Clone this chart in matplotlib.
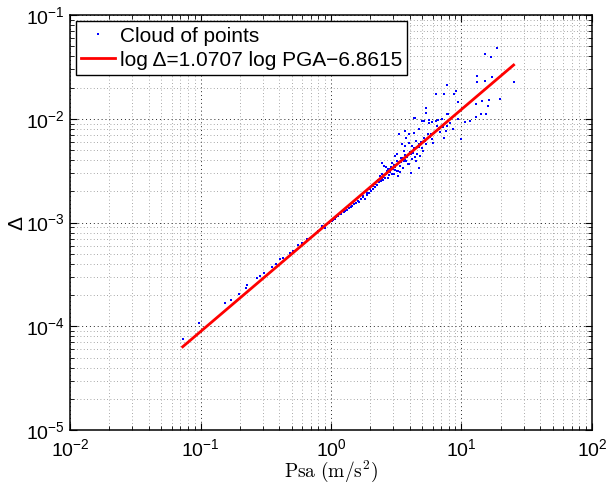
import numpy as np
import matplotlib
matplotlib.use("Agg")
import matplotlib.pyplot as plt

plt.rcParams['font.family'] = ['Liberation Sans', 'DejaVu Sans']
plt.rcParams['mathtext.fontset'] = 'custom'
plt.rcParams['mathtext.rm'] = 'Liberation Sans'
plt.rcParams['mathtext.it'] = 'Liberation Sans:italic'
plt.rcParams['mathtext.bf'] = 'Liberation Sans:bold'

# cloud of points (Psa, drift)
psa = [0.073, 0.098, 0.155, 0.172, 0.198, 0.223, 0.226, 0.271, 0.286, 0.307,
       0.353, 0.378, 0.406, 0.428, 0.485, 0.510, 0.557, 0.598, 0.653, 0.687,
       0.751, 0.792, 0.849, 0.895, 0.942, 1.01, 1.10, 1.16, 1.32, 1.46,
       1.65, 1.81,
       0.97, 1.04, 1.07, 1.13, 1.20, 1.25, 1.29, 1.38, 1.42, 1.50,
       1.55, 1.60, 1.70, 1.75, 1.88, 1.95, 2.02, 2.10, 2.18, 2.25,
       1.75, 1.88, 1.98, 2.09, 2.16, 2.24, 2.36, 2.48, 2.72, 2.81,
       2.96, 3.18, 3.24, 2.44, 2.57, 2.67, 3.18, 3.46, 3.79, 3.99,
       4.51, 4.76, 4.13, 3.35, 3.79, 3.99, 3.66, 3.53, 4.51, 4.76,
       5.01, 5.38, 5.98, 4.36, 5.38, 5.01, 5.67, 6.41, 7.78, 6.75,
       7.64, 7.37,
       18.7, 15.2, 16.8, 13.1, 13.1, 15.2, 17.1, 25.1, 7.78, 6.41,
       7.37, 8.79, 9.11, 9.43, 12.9, 14.4, 16.2, 16.0, 19.7, 15.4,
       14.1, 12.9, 11.7, 10.7, 9.43, 7.91, 7.12, 6.64, 5.38, 4.44,
       5.20, 5.67, 5.98, 3.66, 3.99, 4.36, 4.76, 6.53, 6.75, 7.78,
       9.94, 5.87,
       2.30, 2.40, 2.50, 2.55, 2.60, 2.70, 2.75, 2.85, 2.90, 3.00,
       3.05, 3.10, 3.30, 3.40, 3.50, 3.60, 3.70, 3.85, 4.00, 4.20,
       4.30, 4.60, 4.90, 5.20, 5.50, 3.20, 2.95, 2.65,
       2.33, 2.46, 2.52, 2.62, 2.78, 2.88, 3.02, 3.12, 3.28, 3.42,
       3.56, 3.72, 3.90, 4.08, 4.25, 4.40, 4.70, 5.05, 5.30, 5.75,
       6.10, 6.90, 7.20, 8.20, 8.60, 3.08, 3.36, 3.62, 4.18, 4.85]
drift = [7.5e-5, 1.08e-4, 1.67e-4, 1.78e-4, 2.07e-4, 2.36e-4, 2.52e-4, 2.94e-4, 3.07e-4, 3.28e-4,
         3.74e-4, 4.0e-4, 4.46e-4, 4.56e-4, 5.09e-4, 5.32e-4, 6.06e-4, 6.34e-4, 6.92e-4, 7.07e-4,
         7.72e-4, 8.24e-4, 9.2e-4, 8.8e-4, 9.84e-4, 1.03e-3, 1.14e-3, 1.20e-3, 1.33e-3, 1.43e-3,
         1.59e-3, 1.70e-3,
         9.9e-4, 1.07e-3, 1.09e-3, 1.15e-3, 1.22e-3, 1.27e-3, 1.28e-3, 1.39e-3, 1.40e-3, 1.50e-3,
         1.53e-3, 1.60e-3, 1.67e-3, 1.75e-3, 1.85e-3, 1.92e-3, 2.0e-3, 2.12e-3, 2.2e-3, 2.28e-3,
         1.80e-3, 1.93e-3, 2.11e-3, 2.26e-3, 2.36e-3, 2.53e-3, 2.82e-3, 2.95e-3, 2.71e-3, 3.30e-3,
         2.96e-3, 3.16e-3, 2.83e-3, 3.77e-3, 3.53e-3, 3.16e-3, 4.60e-3, 4.21e-3, 3.95e-3, 3.69e-3,
         3.95e-3, 3.38e-3, 3.03e-3, 7.15e-3, 6.55e-3, 5.87e-3, 5.49e-3, 5.74e-3, 6.12e-3, 5.74e-3,
         5.26e-3, 5.74e-3, 6.40e-3, 1.02e-2, 1.13e-2, 9.5e-3, 9.1e-3, 9.5e-3, 1.12e-2, 8.15e-3,
         7.63e-3, 6.55e-3,
         4.85e-2, 4.25e-2, 3.98e-2, 2.57e-2, 2.25e-2, 2.30e-2, 2.51e-2, 2.25e-2, 2.10e-2, 1.74e-2,
         1.74e-2, 1.74e-2, 1.85e-2, 1.46e-2, 1.38e-2, 1.49e-2, 1.51e-2, 1.33e-2, 1.55e-2, 1.12e-2,
         1.12e-2, 1.04e-2, 9.55e-3, 9.35e-3, 9.95e-3, 1.12e-2, 9.95e-3, 9.75e-3, 1.27e-2, 1.02e-2,
         9.55e-3, 9.75e-3, 9.35e-3, 7.65e-3, 7.15e-3, 7.30e-3, 8.0e-3, 8.55e-3, 8.0e-3, 8.55e-3,
         6.42e-3, 7.15e-3,
         2.6e-3, 2.5e-3, 2.75e-3, 2.9e-3, 2.7e-3, 3.0e-3, 3.3e-3, 3.1e-3, 3.4e-3, 3.3e-3,
         3.6e-3, 3.2e-3, 3.8e-3, 3.5e-3, 4.2e-3, 3.9e-3, 4.5e-3, 4.3e-3, 4.8e-3, 4.1e-3,
         5.2e-3, 4.6e-3, 6.0e-3, 6.5e-3, 7.2e-3, 3.9e-3, 3.75e-3, 3.45e-3,
         2.45e-3, 2.65e-3, 2.55e-3, 2.95e-3, 2.85e-3, 3.25e-3, 2.92e-3, 3.45e-3, 3.15e-3, 3.85e-3,
         3.35e-3, 4.05e-3, 3.65e-3, 4.55e-3, 4.65e-3, 4.25e-3, 5.35e-3, 4.95e-3, 6.15e-3, 6.75e-3,
         5.90e-3, 7.40e-3, 8.40e-3, 9.10e-3, 7.90e-3, 4.35e-3, 3.05e-3, 4.95e-3, 5.45e-3, 4.40e-3]

# fitted law: ln(drift) = 1.0707 ln(PGA) - 6.8615
slope = 1.0707
intercept = -6.8615

psa = np.array(psa)
drift = np.array(drift)
x_fit = np.array([psa.min(), psa.max()])
y_fit = np.exp(intercept + slope * np.log(x_fit))

fig = plt.figure(figsize=(6.09, 4.86), dpi=100)
ax = fig.add_axes([0.115, 0.115, 0.857, 0.854])

ax.loglog(psa, drift, 's', color='blue', markersize=2.0, markeredgewidth=0,
          label='Cloud of points')
ax.loglog(x_fit, y_fit, '-', color='red', linewidth=2.0,
          label=u'log \u0394=1.0707 log PGA\u22126.8615')

ax.set_xlim(1e-2, 1e2)
ax.set_ylim(1e-5, 1e-1)

ax.grid(True, which='major', linestyle=(0, (1, 3)), color='0.15', linewidth=0.7)
ax.grid(True, which='minor', linestyle=(0, (1, 3)), color='0.55', linewidth=0.6)
ax.tick_params(which='both', direction='in', top=True, right=True, labelsize=14)
ax.tick_params(which='major', length=5)
ax.tick_params(which='minor', length=3)
ax.tick_params(axis='x', pad=6)
for s in ax.spines.values():
    s.set_linewidth(1.1)

ax.set_xlabel(r'$\mathrm{Psa\ (m/s^2)}$', fontsize=14, math_fontfamily='cm', labelpad=-1)
ax.set_ylabel(u'\u0394', fontsize=15, labelpad=0)

leg = ax.legend(loc='upper left', fontsize=15, handlelength=1.6, handletextpad=0.25,
                borderpad=0.25, labelspacing=0.25, borderaxespad=0.3, fancybox=False,
                framealpha=1, markerscale=1.0)
leg.get_frame().set_edgecolor('black')
leg.get_frame().set_linewidth(1.0)

fig.savefig('out.png', dpi=100)
